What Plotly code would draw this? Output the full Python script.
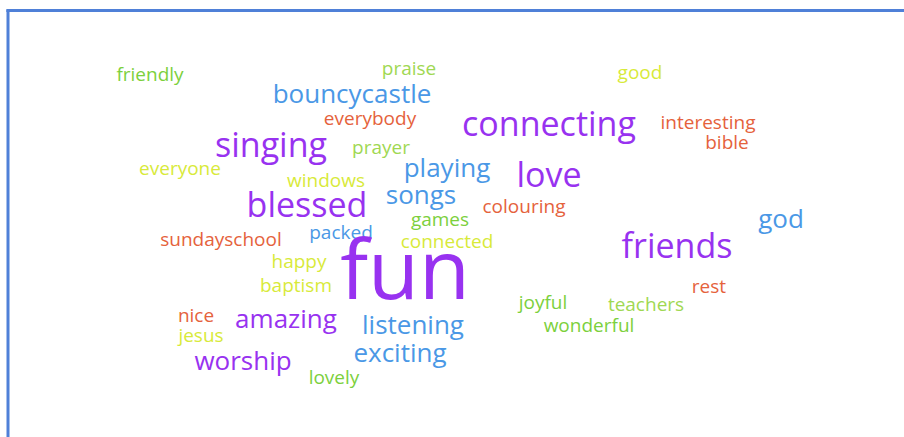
import plotly.graph_objects as go

# Word cloud data
words = ["friendly", "praise", "good", "bouncycastle", "everybody", "connecting",
         "interesting", "bible", "singing", "prayer", "everyone", "playing", "love",
         "windows", "blessed", "songs", "colouring", "god", "games", "sundayschool",
         "packed", "connected", "friends", "happy", "fun", "baptism", "rest", "joyful",
         "teachers", "nice", "amazing", "listening", "jesus", "wonderful", "exciting",
         "worship", "lovely"]
weights = [2, 2, 2, 3, 2, 4, 2, 2, 4, 2, 2, 3, 4, 2, 4, 3, 2, 3, 2, 2,
           2, 2, 4, 2, 10, 2, 2, 2, 2, 2, 3, 3, 2, 2, 3, 3, 2]
x_pos = [150, 409, 640, 352, 370, 549, 708, 727, 271, 381, 180, 447, 549, 326, 307, 421,
         524, 781, 440, 221, 341, 447, 677, 299, 405, 296, 709, 543, 646, 196, 286, 413,
         201, 589, 400, 243, 334]
y_pos = [76, 70, 74, 96, 120, 127, 124, 144, 148, 149, 170, 170, 178, 182, 208, 197,
         208, 221, 221, 241, 234, 243, 249, 263, 278, 287, 288, 304, 306, 317, 321, 327,
         337, 327, 355, 363, 379]
color_group = ["green", "lime", "yellow", "blue", "orange", "purple", "orange", "orange",
               "purple", "lime", "yellow", "blue", "purple", "yellow", "purple", "blue",
               "orange", "blue", "green", "orange", "blue", "yellow", "purple", "yellow",
               "purple", "yellow", "orange", "green", "lime", "orange", "purple", "blue",
               "yellow", "green", "blue", "purple", "green"]

palette = {"purple": "#9832f0", "blue": "#4a98e6", "orange": "#e5623c",
           "green": "#7cd03c", "yellow": "#d8ea3a", "lime": "#9fd852"}
size_for_weight = {2: 19, 3: 26, 4: 34, 10: 83}

W, H = 904, 437

fig = go.Figure()
fig.add_trace(go.Scatter(
    x=x_pos, y=y_pos, mode="text", text=words,
    textposition="middle center",
    textfont=dict(family="Open Sans", size=[size_for_weight[w] for w in weights],
                  color=[palette[c] for c in color_group]),
    hoverinfo="text",
))

fig.update_layout(
    width=W, height=H,
    margin=dict(l=0, r=0, t=0, b=0),
    paper_bgcolor="white", plot_bgcolor="white",
    showlegend=False,
    xaxis=dict(range=[0, W], visible=False, fixedrange=True),
    yaxis=dict(range=[H, 0], visible=False, fixedrange=True),
    shapes=[
        dict(type="line", xref="paper", yref="y", x0=0.007, x1=1, y0=10.5, y1=10.5,
             line=dict(color="#4f80d8", width=3)),
        dict(type="line", xref="x", yref="paper", x0=8, x1=8, y0=0, y1=0.977,
             line=dict(color="#4f80d8", width=3)),
    ],
)

fig.write_html(
    "out.html",
    config={"displayModeBar": False},
    post_script="document.body.style.margin='0';document.body.style.overflow='hidden';",
)
